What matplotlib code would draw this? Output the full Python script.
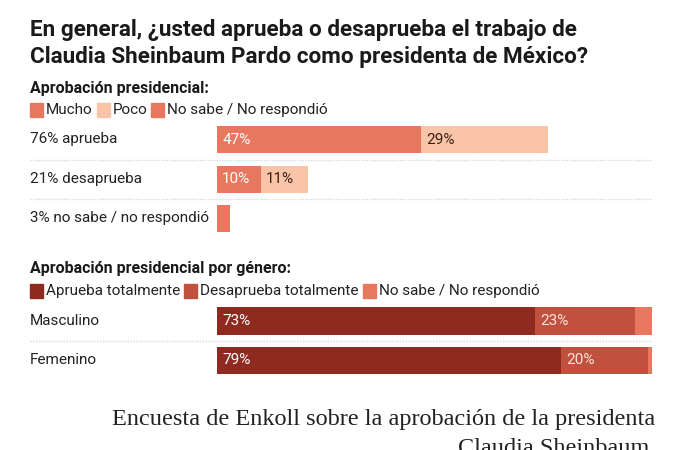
import matplotlib.pyplot as plt

# datos
gen_labels = ['76% aprueba', '21% desaprueba', '3% no sabe / no respondió']
mucho = [47, 10, 3]
poco = [29, 11, 0]
gen_colors = ['#E8775F', '#F9C4A8', '#E8775F']
gen_legend = ['Mucho', 'Poco', 'No sabe / No respondió']

gen_cats = ['Masculino', 'Femenino']
aprueba = [73, 79]
desaprueba = [23, 20]
nosabe = [4, 1]
sex_colors = ['#8F2A20', '#C0513F', '#E8775F']
sex_legend = ['Aprueba totalmente', 'Desaprueba totalmente', 'No sabe / No respondió']

W, H = 690, 450
SANS = ['Liberation Sans Narrow', 'Roboto', 'DejaVu Sans']
fig = plt.figure(figsize=(W / 100, H / 100), dpi=100)
fig.patch.set_facecolor('white')

def fx(px):
    return px / W

def fy(py):
    return 1 - py / H

# titulo
fig.text(fx(30), fy(30), 'En general, ¿usted aprueba o desaprueba el trabajo de',
         family=SANS, weight='bold', fontsize=16.2, color='#1a1a1a', va='center')
fig.text(fx(30), fy(57), 'Claudia Sheinbaum Pardo como presidenta de México?',
         family=SANS, weight='bold', fontsize=16.2, color='#1a1a1a', va='center')

def legend_row(y, labels, colors):
    x = 30
    for lab, col in zip(labels, colors):
        fig.patches.append(plt.Rectangle((fx(x), fy(y + 7)), fx(13), 14 / H,
                                         transform=fig.transFigure, color=col))
        t = fig.text(fx(x + 16), fy(y), lab, family=SANS, fontsize=11,
                     color='#222222', va='center')
        fig.canvas.draw()
        bb = t.get_window_extent()
        x = bb.x1 + 4

def row_label(y, s):
    fig.text(fx(30), fy(y), s, family=SANS, fontsize=11, color='#222222', va='center')

def sep(ax, yv):
    ax.plot([(30 - 217) / 4.35, 100], [yv, yv], color='#d8d8d8', lw=1,
            ls=(0, (1, 1)), clip_on=False)

# panel 1
fig.text(fx(30), fy(88), 'Aprobación presidencial:', family=SANS, weight='bold',
         fontsize=11.5, color='#1a1a1a', va='center')
legend_row(110, gen_legend, gen_colors)

ax1 = fig.add_axes([fx(217), fy(238.5), fx(435), 118.5 / H])
ys = range(len(gen_labels))
ax1.barh(ys, mucho, height=0.69, color=gen_colors[0])
ax1.barh(ys, poco, left=mucho, height=0.69, color=gen_colors[1])
for i in ys:
    if mucho[i] >= 5:
        ax1.text(1.2, i, f'{mucho[i]}%', color='white', fontsize=11, family=SANS, va='center')
    if poco[i] > 0:
        ax1.text(mucho[i] + 1.2, i, f'{poco[i]}%', color='#3a2018', fontsize=11,
                 family=SANS, va='center')
    row_label(139.5 + 39.5 * i, gen_labels[i])
sep(ax1, 0.5)
sep(ax1, 1.5)
ax1.set_xlim(0, 100)
ax1.set_ylim(2.5, -0.5)
ax1.axis('off')

# panel 2
fig.text(fx(30), fy(269), 'Aprobación presidencial por género:', family=SANS,
         weight='bold', fontsize=11.5, color='#1a1a1a', va='center')
legend_row(291, sex_legend, sex_colors)

ax2 = fig.add_axes([fx(217), fy(380.25), fx(435), 79 / H])
ys2 = range(len(gen_cats))
left2 = [a + d for a, d in zip(aprueba, desaprueba)]
ax2.barh(ys2, aprueba, height=0.70, color=sex_colors[0])
ax2.barh(ys2, desaprueba, left=aprueba, height=0.70, color=sex_colors[1])
ax2.barh(ys2, nosabe, left=left2, height=0.70, color=sex_colors[2])
for i in ys2:
    ax2.text(1.2, i, f'{aprueba[i]}%', color='white', fontsize=11, family=SANS, va='center')
    ax2.text(aprueba[i] + 1.2, i, f'{desaprueba[i]}%', color='#fbe3da', fontsize=11,
             family=SANS, va='center')
    row_label(321 + 39.5 * i, gen_cats[i])
sep(ax2, 0.5)
ax2.set_xlim(0, 100)
ax2.set_ylim(1.5, -0.5)
ax2.axis('off')

# pie de foto (la segunda linea queda cortada en el borde, como en el original)
SERIF = ['Liberation Serif', 'DejaVu Serif']
fig.text(fx(655), fy(420), 'Encuesta de Enkoll sobre la aprobación de la presidenta',
         family=SERIF, fontsize=17.5, color='#222222', ha='right', va='center')
fig.text(fx(655), fy(448), 'Claudia Sheinbaum.',
         family=SERIF, fontsize=17.5, color='#222222', ha='right', va='center')

fig.savefig('out.png', dpi=100)
